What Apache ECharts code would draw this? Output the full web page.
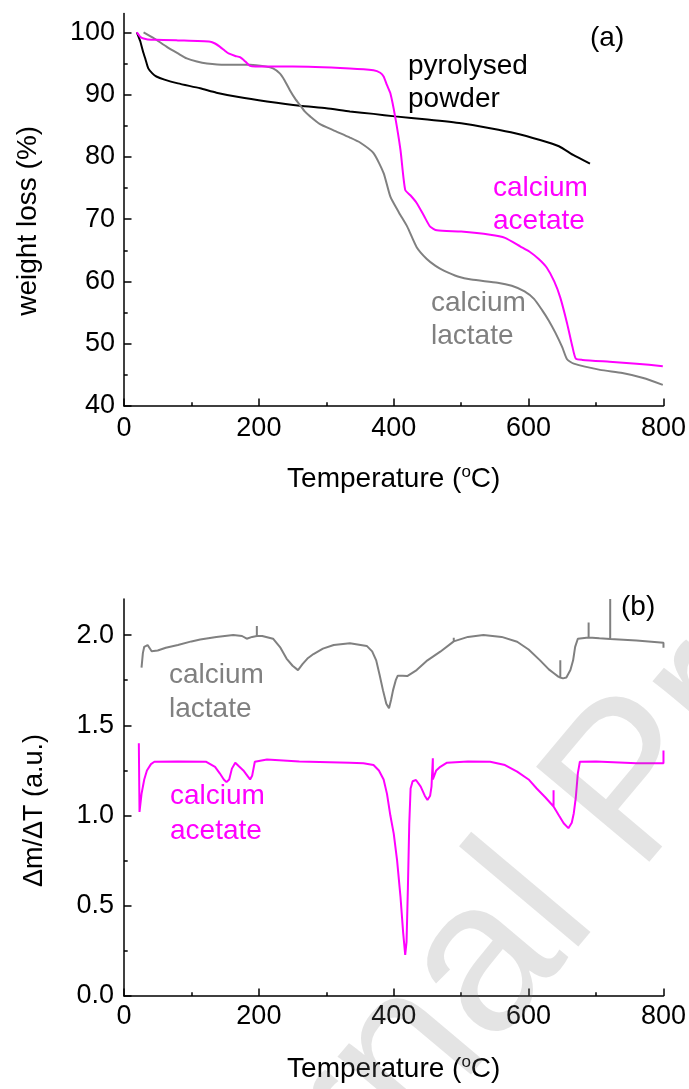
<!DOCTYPE html>
<html>
<head>
<meta charset="utf-8">
<script src="https://cdn.jsdelivr.net/npm/echarts@6/dist/echarts.min.js"></script>
<style>
  html, body { margin: 0; padding: 0; background: #fff; }
  #main { width: 689px; height: 1089px; }
</style>
</head>
<body>
<div id="main"></div>
<script>
// (a) TGA curves: temperature (C) / weight (%)
var pyroT = [19, 24, 28, 32, 36, 42, 48, 60, 80, 113, 137, 170, 212, 261, 300, 335, 370, 402, 450, 500, 543, 580, 617, 645, 666, 691];
var pyroW = [100, 98.6, 97.0, 95.6, 94.2, 93.4, 92.9, 92.4, 91.8, 91.0, 90.3, 89.6, 88.9, 88.2, 87.8, 87.3, 86.9, 86.5, 86.0, 85.4, 84.6, 83.8, 82.7, 81.7, 80.3, 78.9];

var acetT = [19, 24, 29, 40, 48, 80, 128, 135, 142, 150, 155, 165, 172, 180, 187, 195, 250, 335, 370, 380, 385, 390, 395, 402, 410, 417, 425, 434, 445, 454, 464, 500, 543, 565, 588, 601, 615, 627, 638, 647, 657, 665, 670, 680, 720, 760, 799];
var acetW = [100, 99.3, 99.0, 98.8, 98.8, 98.7, 98.5, 98.2, 97.7, 97.0, 96.6, 96.2, 96.0, 95.3, 94.6, 94.5, 94.5, 94.2, 93.9, 93.5, 92.9, 91.5, 90.2, 86.5, 81.1, 74.7, 73.8, 72.6, 70.5, 68.8, 68.2, 68.0, 67.5, 67.0, 65.6, 64.8, 63.6, 62.2, 60.0, 57.4, 53.3, 49.5, 47.6, 47.4, 47.1, 46.8, 46.4];

var lactT = [29, 45, 63, 80, 93, 108, 123, 150, 187, 210, 221, 231, 238, 246, 254, 261, 268, 276, 290, 310, 335, 350, 370, 385, 395, 408, 420, 434, 449, 462, 475, 495, 515, 554, 575, 594, 608, 620, 630, 640, 650, 657, 667, 706, 739, 770, 799];
var lactW = [100, 99.0, 97.7, 96.6, 95.8, 95.3, 95.0, 94.8, 94.8, 94.5, 94.2, 93.4, 92.3, 90.7, 89.3, 88.3, 87.3, 86.5, 85.3, 84.3, 83.1, 82.3, 80.6, 77.4, 73.6, 71.0, 68.8, 65.5, 63.6, 62.5, 61.7, 60.8, 60.3, 59.8, 59.3, 58.4, 57.2, 55.4, 53.7, 51.7, 49.4, 47.5, 46.8, 45.8, 45.3, 44.5, 43.4];

// (b) DTG curves: temperature (C) / dm/dT (a.u.)
var dLactT = [26, 28, 30, 35, 41, 50, 62, 80, 100, 113, 137, 162, 175, 182, 190, 197, 197, 197, 205, 221, 232, 241, 250, 258, 265, 272, 281, 295, 311, 335, 360, 368, 374, 379, 384, 389, 393, 396, 399, 403, 406, 413, 420, 434, 450, 469, 489, 489, 489, 510, 533, 560, 583, 600, 617, 630, 637, 644, 647, 647, 647, 651, 656, 662, 666, 669, 673, 689, 689, 689, 705, 721, 721, 721, 760, 800, 800];
var dLactV = [1.82, 1.90, 1.935, 1.945, 1.91, 1.915, 1.93, 1.945, 1.965, 1.975, 1.99, 2.0, 1.995, 1.98, 1.99, 1.995, 2.05, 1.995, 1.995, 1.98, 1.93, 1.87, 1.83, 1.806, 1.84, 1.87, 1.895, 1.925, 1.945, 1.955, 1.94, 1.91, 1.86, 1.78, 1.695, 1.62, 1.594, 1.64, 1.695, 1.75, 1.775, 1.775, 1.773, 1.806, 1.86, 1.908, 1.965, 1.985, 1.965, 1.99, 2.0, 1.99, 1.963, 1.92, 1.86, 1.81, 1.79, 1.77, 1.765, 1.86, 1.765, 1.76, 1.765, 1.806, 1.86, 1.935, 1.98, 1.987, 2.07, 1.987, 1.982, 1.978, 2.2, 1.978, 1.97, 1.957, 1.93];

var dAcetT = [22, 23, 26, 30, 34, 40, 45, 80, 122, 135, 142, 148, 152, 156, 160, 165, 170, 177, 183, 187, 190, 194, 212, 260, 335, 355, 370, 378, 385, 390, 395, 400, 405, 410, 414, 417, 419, 421, 423, 425, 428, 433, 440, 446, 450, 454, 456, 458, 458, 458, 463, 469, 479, 510, 543, 565, 583, 600, 612, 625, 637, 637, 637, 645, 652, 659, 664, 667, 670, 673, 676, 700, 760, 800, 800];
var dAcetV = [1.40, 1.02, 1.12, 1.20, 1.25, 1.285, 1.298, 1.30, 1.298, 1.27, 1.234, 1.20, 1.185, 1.20, 1.26, 1.293, 1.275, 1.25, 1.22, 1.20, 1.22, 1.298, 1.31, 1.30, 1.293, 1.29, 1.28, 1.25, 1.20, 1.12, 1.0, 0.9, 0.75, 0.55, 0.35, 0.228, 0.3, 0.6, 0.95, 1.15, 1.19, 1.197, 1.16, 1.11, 1.086, 1.11, 1.16, 1.16, 1.317, 1.2, 1.25, 1.27, 1.293, 1.30, 1.298, 1.28, 1.243, 1.20, 1.15, 1.10, 1.05, 1.14, 1.05, 1.0, 0.957, 0.93, 0.96, 1.013, 1.10, 1.234, 1.298, 1.30, 1.29, 1.29, 1.36];

var weightTicks = [40, 50, 60, 70, 80, 90, 100];
var weightMinor = [45, 55, 65, 75, 85, 95];
var dtgTicks = [0, 0.5, 1.0, 1.5, 2.0];
var dtgMinor = [0.25, 0.75, 1.25, 1.75];

var FONT = 'Liberation Sans, Arial, sans-serif';
var MAGENTA = '#ff00ff', GREY = '#808080', BLACK = '#000000';

function pairs(xs, ys) {
	var out = [];
	for (var i = 0; i < xs.length; i++) out.push([xs[i], ys[i]]);
	return out;
}

function tempAxis(grid, margin) {
	return {
		gridIndex : grid,
		type : 'value',
		min : 0,
		max : 800,
		interval : 200,
		axisLine : { onZero : false, lineStyle : { color : BLACK, width : 1.5 } },
		axisTick : { inside : true, length : 7.5, lineStyle : { color : BLACK, width : 1.5 } },
		minorTick : { show : true, splitNumber : 2, length : 3.7, lineStyle : { color : BLACK, width : 1.5 } },
		splitLine : { show : false },
		minorSplitLine : { show : false },
		axisLabel : { color : BLACK, fontSize : 27, fontFamily : FONT, margin : margin },
		name : 'Temperature ({sup|o}C)',
		nameLocation : 'middle',
		nameGap : 58,
		nameTextStyle : {
			color : BLACK, fontSize : 28, fontFamily : FONT,
			rich : { sup : { fontSize : 17, fontFamily : FONT, color : BLACK, verticalAlign : 'top', padding : [0, 0, 14, 0] } }
		}
	};
}

function minorAxis(grid, min, max, values) {
	return {
		gridIndex : grid,
		type : 'value',
		position : 'left',
		min : min,
		max : max,
		axisLine : { show : false },
		axisLabel : { show : false },
		splitLine : { show : false },
		axisTick : { show : true, inside : true, length : 3.7, customValues : values, lineStyle : { color : BLACK, width : 1.5 } }
	};
}

function line(name, data, color, xi, yi, smooth) {
	return {
		name : name,
		type : 'line',
		xAxisIndex : xi,
		yAxisIndex : yi,
		data : data,
		symbol : 'none',
		smooth : smooth,
		lineStyle : { color : color, width : 2 },
		itemStyle : { color : color },
		z : 3
	};
}

function note(text, color, x, y) {
	return {
		type : 'text',
		x : x,
		y : y,
		z : 50,
		style : {
			text : text, fill : color, font : '28px ' + FONT,
			align : 'left', verticalAlign : 'middle',
			textAlign : 'left', textVerticalAlign : 'middle'
		}
	};
}

var chart = echarts.init(document.getElementById('main'), null, { renderer : 'canvas' });

chart.setOption({
	animation : false,
	backgroundColor : '#ffffff',
	grid : [
		{ left : 124, right : 25.5, top : 13.6, height : 392.4 },
		{ left : 124, right : 25.5, top : 599, height : 397 }
	],
	xAxis : [ tempAxis(0, 9), tempAxis(1, 7) ],
	yAxis : [ {
		gridIndex : 0,
		type : 'value',
		min : 40,
		max : 103,
		axisLine : { onZero : false, lineStyle : { color : BLACK, width : 1.5 } },
		axisTick : { inside : true, length : 7.5, customValues : weightTicks, lineStyle : { color : BLACK, width : 1.5 } },
		axisLabel : { customValues : weightTicks, color : BLACK, fontSize : 27, fontFamily : FONT, margin : 9 },
		splitLine : { show : false },
		name : 'weight loss (%)',
		nameLocation : 'middle',
		nameGap : 82,
		nameTextStyle : { color : BLACK, fontSize : 28, fontFamily : FONT, padding : [0, 22, 0, 0] }
	},
	minorAxis(0, 40, 103, weightMinor),
	{
		gridIndex : 1,
		type : 'value',
		min : 0,
		max : 2.2,
		axisLine : { onZero : false, lineStyle : { color : BLACK, width : 1.5 } },
		axisTick : { inside : true, length : 7.5, customValues : dtgTicks, lineStyle : { color : BLACK, width : 1.5 } },
		axisLabel : {
			customValues : dtgTicks, color : BLACK, fontSize : 27, fontFamily : FONT, margin : 10,
			formatter : function(v) { return v.toFixed(1); }
		},
		splitLine : { show : false },
		name : '\u0394m/\u0394T (a.u.)',
		nameLocation : 'middle',
		nameGap : 76,
		nameTextStyle : { color : BLACK, fontSize : 27, fontFamily : FONT, padding : [0, 26, 0, 0] }
	},
	minorAxis(1, 0, 2.2, dtgMinor) ],
	series : [
		line('pyrolysed powder', pairs(pyroT, pyroW), BLACK, 0, 0, 0.2),
		line('calcium lactate', pairs(lactT, lactW), GREY, 0, 0, 0.2),
		line('calcium acetate', pairs(acetT, acetW), MAGENTA, 0, 0, 0.2),
		line('calcium lactate DTG', pairs(dLactT, dLactV), GREY, 1, 2, false),
		line('calcium acetate DTG', pairs(dAcetT, dAcetV), MAGENTA, 1, 2, false)
	],
	graphic : [
		note('(a)', BLACK, 590, 38),
		note('pyrolysed', BLACK, 408, 66),
		note('powder', BLACK, 408, 99),
		note('calcium', MAGENTA, 493, 188),
		note('acetate', MAGENTA, 493, 221),
		note('calcium', GREY, 431, 303),
		note('lactate', GREY, 431, 336),
		note('(b)', BLACK, 621, 607),
		note('calcium', GREY, 169, 675),
		note('lactate', GREY, 169, 709),
		note('calcium', MAGENTA, 170, 796),
		note('acetate', MAGENTA, 170, 831),
		{
			type : 'text',
			x : 101,
			y : 1423,
			rotation : 50 * Math.PI / 180,
			z : 100,
			silent : true,
			style : {
				text : 'Journal Pre-proof', fill : 'rgba(120,120,120,0.2)', font : '215px ' + FONT,
				align : 'left', verticalAlign : 'middle', textAlign : 'left', textVerticalAlign : 'middle'
			}
		}
	]
});
</script>
</body>
</html>
